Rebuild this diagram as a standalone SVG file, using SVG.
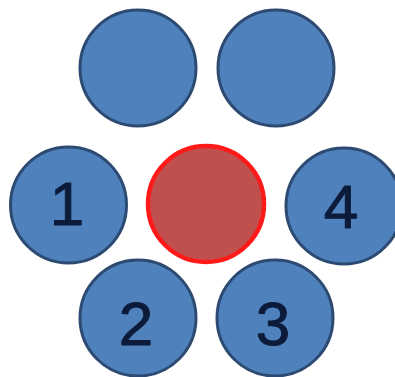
<svg xmlns="http://www.w3.org/2000/svg" width="395" height="377" viewBox="0 0 395 377">
<style>
.b{fill:#4f81bd;stroke:#2c4a72;stroke-width:3}
.r{fill:#c0504d;stroke:#ff1a1a;stroke-width:4.5}
.t{font-family:"Liberation Sans",Arial,sans-serif;font-size:62px;fill:#0d1b3a;stroke:#0d1b3a;stroke-width:1;text-anchor:middle}
</style>
<rect width="395" height="377" fill="#ffffff"/>
<g id="n_tl"><circle class="b" cx="138" cy="68" r="58"/></g>
<g id="n_tr"><circle class="b" cx="276" cy="68" r="58"/></g>
<g id="n1"><circle class="b" cx="68.5" cy="205" r="58"/><text class="t" x="67" y="225">1</text></g>
<g id="n_c"><circle class="r" cx="206" cy="204" r="58"/></g>
<g id="n4"><circle class="b" cx="344" cy="206" r="58"/><text class="t" x="341" y="228">4</text></g>
<g id="n2"><circle class="b" cx="138" cy="318" r="58"/><text class="t" x="136" y="345">2</text></g>
<g id="n3"><circle class="b" cx="275" cy="318" r="58"/><text class="t" x="273" y="345">3</text></g>
<g id="connectors"></g>
</svg>
